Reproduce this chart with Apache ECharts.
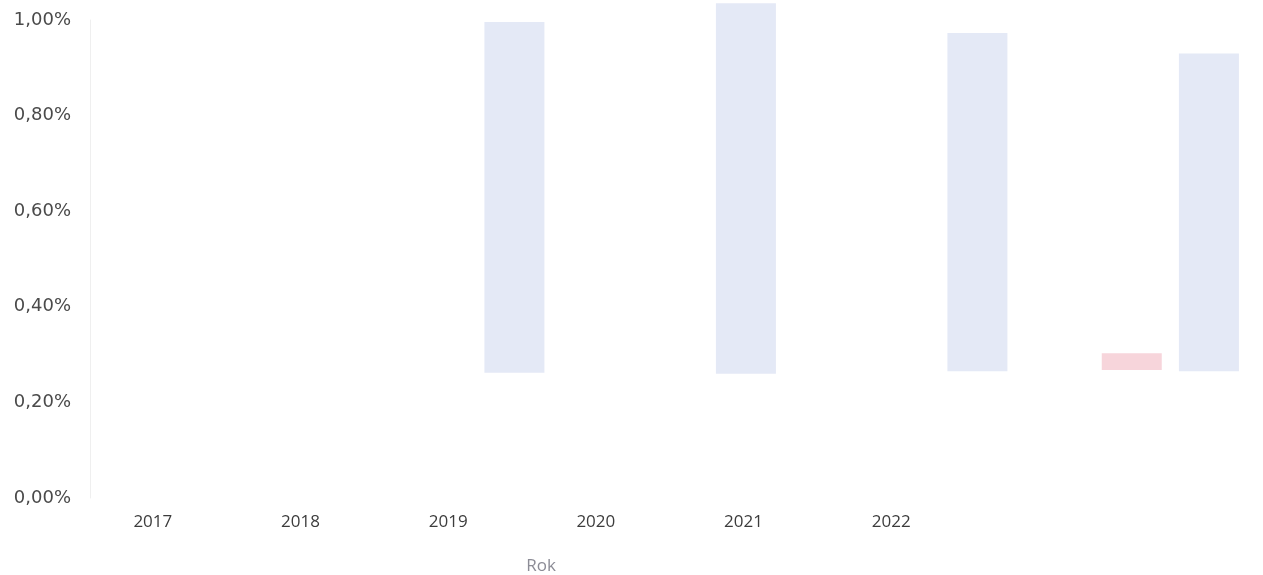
<!DOCTYPE html>
<html>
<head>
<meta charset="utf-8">
<script src="https://cdn.jsdelivr.net/npm/echarts@6/dist/echarts.min.js"></script>
<style>
html,body{margin:0;padding:0;background:#fff;}
#chart{width:1263px;height:575px;}
</style>
</head>
<body>
<div id="chart"></div>
<script>
// Visible year labels on the x axis
var yearLabels = ['2017', '2018', '2019', '2020', '2021', '2022'];
// Y tick values (percent)
var yTicks = [0, 0.2, 0.4, 0.6, 0.8, 1.0];
// Hidden period slots along the x axis where bars sit
var periodSlots = ['P1','P2','P3','P4','P5','P6','P7','P8','P9','P10','P11','P12','P13','P14','P15'];
// Blue floating bars (low / high, in %)
var blueSlots = ['P6', 'P9', 'P12', 'P15'];
var blueLow   = [0.262, 0.260, 0.265, 0.265];
var blueHigh  = [0.996, 1.035, 0.973, 0.930];
// Red floating bar (low / high, in %)
var redSlots = ['P14'];
var redLow   = [0.268];
var redHigh  = [0.303];

function buildSeriesData(slots, vals) {
  return periodSlots.map(function (p) {
    var i = slots.indexOf(p);
    return i < 0 ? '-' : vals[i];
  });
}
function diff(a, b) { return a.map(function (v, i) { return v - b[i]; }); }

var blueBase = buildSeriesData(blueSlots, blueLow);
var blueSpan = buildSeriesData(blueSlots, diff(blueHigh, blueLow));
var redBase = buildSeriesData(redSlots, redLow);
var redSpan = buildSeriesData(redSlots, diff(redHigh, redLow));

var fontFam = '"Open Sans", "Noto Sans", sans-serif';
var chart = echarts.init(document.getElementById('chart'));
chart.setOption({
  animation: false,
  backgroundColor: '#ffffff',
  grid: [
    {left: 90, right: 15.5, top: 20, bottom: 77, containLabel: false, outerBoundsMode: 'none'},
    {left: 79, width: 886, top: 20, bottom: 77, containLabel: false, outerBoundsMode: 'none'}
  ],
  xAxis: [
    {
      type: 'category', gridIndex: 0, data: periodSlots,
      axisLine: {show: false}, axisTick: {show: false}, axisLabel: {show: false}
    },
    {
      type: 'category', gridIndex: 1, data: yearLabels,
      axisLine: {show: false}, axisTick: {show: false},
      axisLabel: {color: '#3c3c3c', fontSize: 17, fontFamily: fontFam, margin: 16},
      name: 'Rok', nameLocation: 'middle', nameGap: 60,
      nameTextStyle: {color: '#8c8c96', fontSize: 17, fontFamily: fontFam, padding: [0, 0, 0, 38]}
    }
  ],
  yAxis: [
    {
      type: 'value', gridIndex: 0, min: yTicks[0], max: yTicks[yTicks.length - 1], interval: 0.2,
      axisLine: {show: true, lineStyle: {color: '#efefef', width: 1}},
      axisTick: {show: false},
      splitLine: {show: false},
      axisLabel: {
        color: '#4a4a4a', fontSize: 18, fontFamily: '"DejaVu Sans", sans-serif', margin: 19,
        formatter: function (v) { return v.toFixed(2).replace('.', ',') + '%'; }
      }
    },
    {
      type: 'value', gridIndex: 1, min: 0, max: 1, show: false
    }
  ],
  series: [
    {type: 'bar', xAxisIndex: 0, yAxisIndex: 0, stack: 'blue', data: blueBase,
     itemStyle: {color: 'transparent'}, barWidth: 60, clip: false, silent: true},
    {type: 'bar', xAxisIndex: 0, yAxisIndex: 0, stack: 'blue', data: blueSpan,
     itemStyle: {color: '#e4e9f6'}, barWidth: 60, clip: false},
    {type: 'bar', xAxisIndex: 0, yAxisIndex: 0, stack: 'red', data: redBase,
     itemStyle: {color: 'transparent'}, barWidth: 60, barGap: '-100%', clip: false, silent: true},
    {type: 'bar', xAxisIndex: 0, yAxisIndex: 0, stack: 'red', data: redSpan,
     itemStyle: {color: '#f7d5db'}, barWidth: 60, barGap: '-100%', clip: false}
  ]
});
</script>
</body>
</html>
